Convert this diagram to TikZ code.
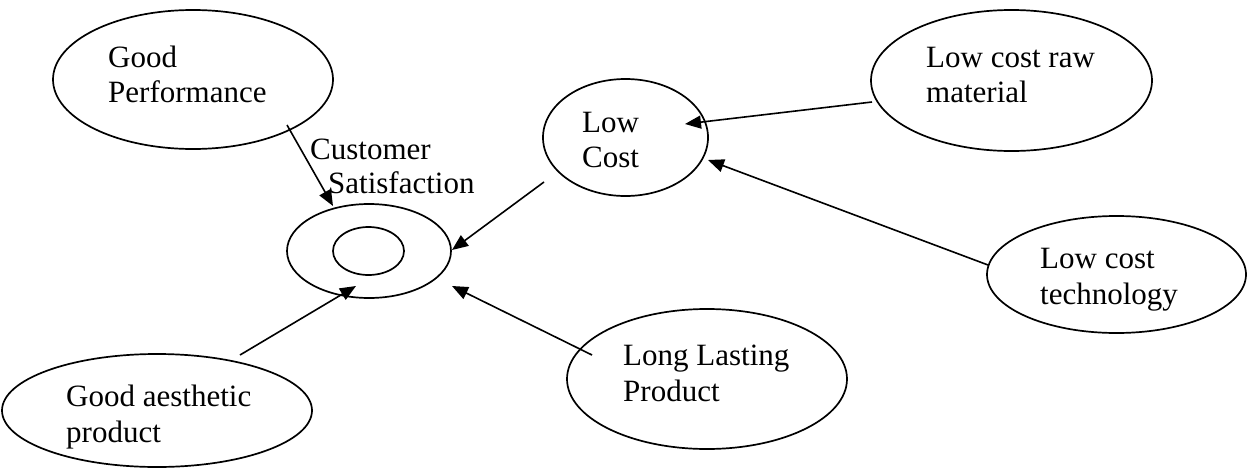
\documentclass[tikz,border=0pt]{standalone}
\usepackage{fontspec}
\setmainfont{Liberation Serif}
\usetikzlibrary{shapes.geometric,arrows.meta}
\begin{document}
\begin{tikzpicture}[x=1pt,y=-1pt,
  oval/.style={draw,ellipse,line width=1.7pt,inner sep=0pt},
  lbl/.style={anchor=base west,align=left,inner sep=0pt,font=\fontsize{31}{35.5}\selectfont},
  conn/.style={line width=1.6pt,-{Triangle[length=16pt,width=13pt]}}]
\useasboundingbox (0,0) rectangle (1248,469);
% ellipses
\node[oval,minimum width=280pt,minimum height=139pt] (gp) at (193,79.5) {};
\node[oval,minimum width=164pt,minimum height=94pt] (cso) at (369,251) {};
\node[oval,minimum width=71pt,minimum height=48pt] (csi) at (368.5,251) {};
\node[oval,minimum width=165pt,minimum height=117pt] (lc) at (625.5,137.5) {};
\node[oval,minimum width=281pt,minimum height=141pt] (raw) at (1011.5,80.5) {};
\node[oval,minimum width=259pt,minimum height=117pt] (tech) at (1116.5,274.5) {};
\node[oval,minimum width=310pt,minimum height=113pt] (ga) at (157,410.5) {};
\node[oval,minimum width=280pt,minimum height=140pt] (ll) at (707,379) {};
% labels (anchored at the baseline of the last line)
\node[lbl] (gpt) at (108,102.5) {Good\\Performance};
\node[lbl,font=\fontsize{31}{34}\selectfont] (cst) at (310,193) {Customer\\\hspace*{18pt}Satisfaction};
\node[lbl] (lct) at (582,167.5) {Low\\Cost};
\node[lbl] (rawt) at (926,102.5) {Low cost raw\\material};
\node[lbl] (techt) at (1040,304) {Low cost\\technology};
\node[lbl] (gat) at (66,442) {Good aesthetic\\product};
\node[lbl] (llt) at (623,401) {Long Lasting\\Product};
% connector ends
\coordinate (gpS) at (287,125);
\coordinate (gpE) at (333,206);
\coordinate (lcS) at (544,182);
\coordinate (lcE) at (452,250);
\coordinate (gaS) at (240,355);
\coordinate (gaE) at (356,286);
\coordinate (llS) at (592,355);
\coordinate (llE) at (452,286);
\coordinate (rawS) at (872,102);
\coordinate (rawE) at (685,124);
\coordinate (techS) at (988,265);
\coordinate (techE) at (708,160);
% connectors
\draw[conn] (gpS) -- (gpE);
\draw[conn] (lcS) -- (lcE);
\draw[conn] (gaS) -- (gaE);
\draw[conn] (llS) -- (llE);
\draw[conn] (rawS) -- (rawE);
\draw[conn] (techS) -- (techE);
\end{tikzpicture}
\end{document}
